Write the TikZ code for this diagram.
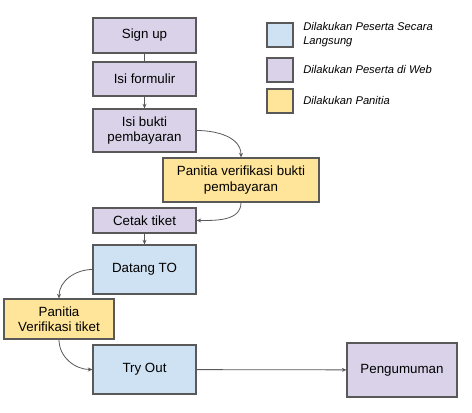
\documentclass[tikz,border=0pt]{standalone}
\usepackage{fontspec}
\setmainfont{Liberation Sans}
\usepackage{tikz}
\usetikzlibrary{arrows.meta, positioning}
\definecolor{webpurple}{HTML}{D9D2E9}
\definecolor{langblue}{HTML}{CFE2F3}
\definecolor{pnyellow}{HTML}{FFE599}
\definecolor{edgegray}{HTML}{595959}

\begin{document}
\begin{tikzpicture}[x=0.75pt, y=-0.75pt,
  box/.style={draw=edgegray, fill=#1, line width=0.8pt, inner sep=1pt,
    minimum width=77.25pt, font=\fontsize{10}{11.5}\selectfont, align=center},
  key/.style={draw=edgegray, fill=#1, line width=0.8pt, inner sep=0pt,
    minimum width=19.5pt, minimum height=18pt},
  keytext/.style={anchor=west, inner sep=0pt, align=left,
    font=\fontsize{8.4}{10.5}\selectfont\itshape},
  arr/.style={-{Stealth[length=3.5pt, width=3pt]}, line width=0.6pt, draw=edgegray}
]
\useasboundingbox (0,0) rectangle (472,413);
% flow
\node[box=webpurple, minimum height=26.25pt] (signup)  at (144.5, 35.5) {Sign up};
\node[box=webpurple, minimum height=25.5pt]  (form)    at (144.5, 79)   {Isi formulir};
\node[box=webpurple, minimum height=32.25pt] (bukti)   at (144.5,130.5) {Isi bukti\\pembayaran};
\node[box=pnyellow, minimum width=117pt, minimum height=33pt]
                                             (cekbukti) at (241, 180)   {Panitia verifikasi bukti\\pembayaran};
\node[box=webpurple, minimum height=18.75pt] (cetak)   at (144.5,220.5) {Cetak tiket};
\node[box=langblue, minimum height=36.75pt]  (datang)  at (144.5,269.5) {Datang TO};
\node[box=pnyellow, minimum width=82.5pt, minimum height=30pt]
                                             (cektiket) at (59, 319)    {Panitia\\Verifikasi tiket};
\node[box=langblue, minimum height=36.75pt]  (tryout)  at (144.5,369.5) {Try Out};
\node[box=webpurple, minimum width=82.5pt, minimum height=40.5pt]
                                             (umum)    at (402, 370)    {Pengumuman};
% legend
\node[key=langblue]  (keyblue)   at (280, 35) {};
\node[key=webpurple] (keypurple) at (280, 70) {};
\node[key=pnyellow]  (keyyellow) at (280,101) {};
\node[keytext] (txtblue)   at (303, 35) {Dilakukan Peserta Secara\\Langsung};
\node[keytext] (txtpurple) at (303, 70) {Dilakukan Peserta di Web};
\node[keytext] (txtyellow) at (303,101) {Dilakukan Panitia};
% connectors
\draw[line width=0.6pt, edgegray] (signup) -- (form);
\draw[arr] (form) -- (bukti);
\draw[arr] (bukti.east) to[out=0, in=90] (cekbukti.north);
\draw[arr] (cekbukti.south) to[out=-90, in=0] (cetak.east);
\draw[arr] (cetak) -- (datang);
\draw[arr] (datang.west) to[out=180, in=90] (cektiket.north);
\draw[arr] (cektiket.south) to[out=-90, in=180] (tryout.west);
\draw[arr] (tryout) -- (umum);
\end{tikzpicture}
\end{document}
